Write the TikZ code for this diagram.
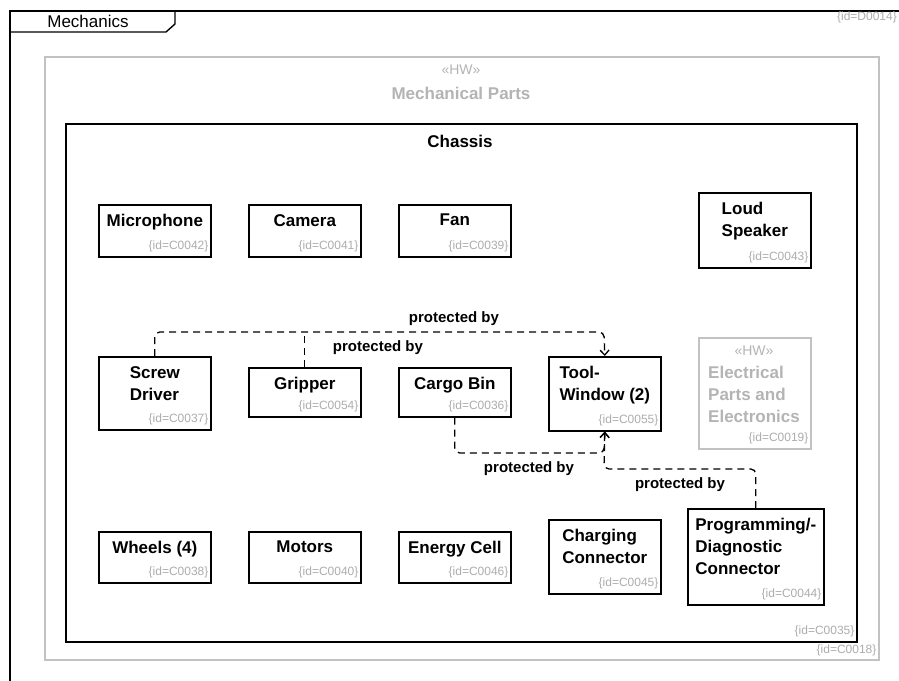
\documentclass[tikz,border=0pt]{standalone}
\usepackage{fontspec}
\setmainfont{Liberation Sans}
\usetikzlibrary{arrows.meta}
\definecolor{idgray}{HTML}{ADADAD}
\definecolor{hwgray}{HTML}{C2C2C2}
\definecolor{hwtext}{HTML}{B4B4B4}

% one part block: name, x, y, width, height, title, id
\newcommand\partbox[7]{%
  \node[blk,minimum width=#4,minimum height=#5] (#1) at (#2,#3) {};
  \node[ttl] at ([yshift=-10pt]#1.north) {#6};
  \node[idt] at ([xshift=-3pt,yshift=5pt]#1.south east) {#7};
}

\begin{document}
\begin{tikzpicture}[x=1pt,y=-1pt,
  blk/.style={draw=black,line width=1.6pt,anchor=north west,inner sep=0pt},
  grayblk/.style={draw=hwgray,line width=1.6pt,anchor=north west,inner sep=0pt},
  ttl/.style={anchor=north,align=left,inner sep=0pt,font=\bfseries\fontsize{17}{22}\selectfont},
  idt/.style={anchor=south east,inner sep=0pt,text=idgray,font=\fontsize{12}{14}\selectfont},
  hw/.style={inner sep=0pt,text=hwtext,font=\fontsize{14}{16}\selectfont},
  conn/.style={line width=1.3pt,dash pattern=on 7pt off 5pt,rounded corners=5pt},
  tip/.style={-{Straight Barb[length=5pt,width=9pt,line width=1.3pt]}},
  lbl/.style={inner sep=0pt,font=\bfseries\fontsize{15}{18}\selectfont}
]
\useasboundingbox (0,0) rectangle (899,680);
\clip (0,0) rectangle (899,680);
\fill[white] (0,0) rectangle (899,680);

% diagram frame with its name tab
\draw[line width=1.4pt] (10,700) -- (10,11) -- (920,11);
\draw[line width=1.4pt] (10,32) -- (166,32) -- (175,24) -- (175,11);
\node[inner sep=0pt,font=\fontsize{17}{20}\selectfont] (frame) at (88,21) {Mechanics};
\node[anchor=east,inner sep=0pt,text=idgray,font=\fontsize{12}{14}\selectfont] (fid) at (897,17) {\{id=D0014\}};

% outer hardware package
\node[grayblk,minimum width=834,minimum height=603] (mech) at (44,56) {};
\node[hw] (mechhw) at (461,70) {«HW»};
\node[inner sep=0pt,text=hwtext,font=\bfseries\fontsize{17}{20}\selectfont] (mecht) at (461,93) {Mechanical Parts};
\node[idt] at ([xshift=-3pt,yshift=4pt]mech.south east) {\{id=C0018\}};

% chassis
\node[blk,minimum width=791,minimum height=518] (chassis) at (65,123) {};
\node[inner sep=0pt,font=\bfseries\fontsize{17}{20}\selectfont] (chassist) at (460,141) {Chassis};
\node[idt] at ([xshift=-3pt,yshift=5pt]chassis.south east) {\{id=C0035\}};

% first row
\partbox{mic}{98}{204}{112}{52}{Microphone}{\{id=C0042\}}
\partbox{cam}{248}{204}{112}{52}{Camera}{\{id=C0041\}}
\partbox{fan}{398}{204}{112}{52}{Fan}{\{id=C0039\}}
\partbox{spk}{698}{192}{112}{75}{Loud\\Speaker}{\{id=C0043\}}

% second row
\partbox{sd}{98}{356}{112}{73}{Screw\\Driver}{\{id=C0037\}}
\partbox{gr}{248}{367}{112}{49}{Gripper}{\{id=C0054\}}
\partbox{cb}{398}{367}{112}{49}{Cargo Bin}{\{id=C0036\}}
\partbox{tw}{548}{356}{112}{74}{Tool-\\Window (2)}{\{id=C0055\}}

% electrical package
\node[grayblk,minimum width=112,minimum height=111] (elec) at (698,337) {};
\node[hw] (elechw) at (754,351) {«HW»};
\node[ttl,text=hwtext] (elect) at (754,366) {Electrical\\Parts and\\Electronics};
\node[idt] at ([xshift=-3pt,yshift=5pt]elec.south east) {\{id=C0019\}};

% third row
\partbox{wh}{98}{531}{112}{51}{Wheels (4)}{\{id=C0038\}}
\partbox{mo}{248}{531}{112}{51}{Motors}{\{id=C0040\}}
\partbox{ec}{398}{531}{112}{51}{Energy Cell}{\{id=C0046\}}
\partbox{cc}{548}{519}{112}{74}{Charging\\Connector}{\{id=C0045\}}
\partbox{pd}{687}{508}{136}{96}{Programming/-\\Diagnostic\\Connector}{\{id=C0044\}}

% protection relations
\coordinate (topbend) at (604,332);
\coordinate (cbbend) at (604,453);
\coordinate (pdbend) at (604,469);
\draw[conn,tip] (sd.north) |- (topbend) -- (tw.north);
\draw[conn] (gr.north) -- (gr.north |- topbend);
\draw[conn,tip] (cb.south) |- (cbbend) -- (tw.south);
\draw[conn,tip] (pd.north) |- (pdbend) -- (tw.south);

\node[lbl] (l1) at (454,319) {protected by};
\node[lbl] (l2) at (378,348) {protected by};
\node[lbl] (l3) at (529,469) {protected by};
\node[lbl] (l4) at (680,485) {protected by};
\end{tikzpicture}
\end{document}
